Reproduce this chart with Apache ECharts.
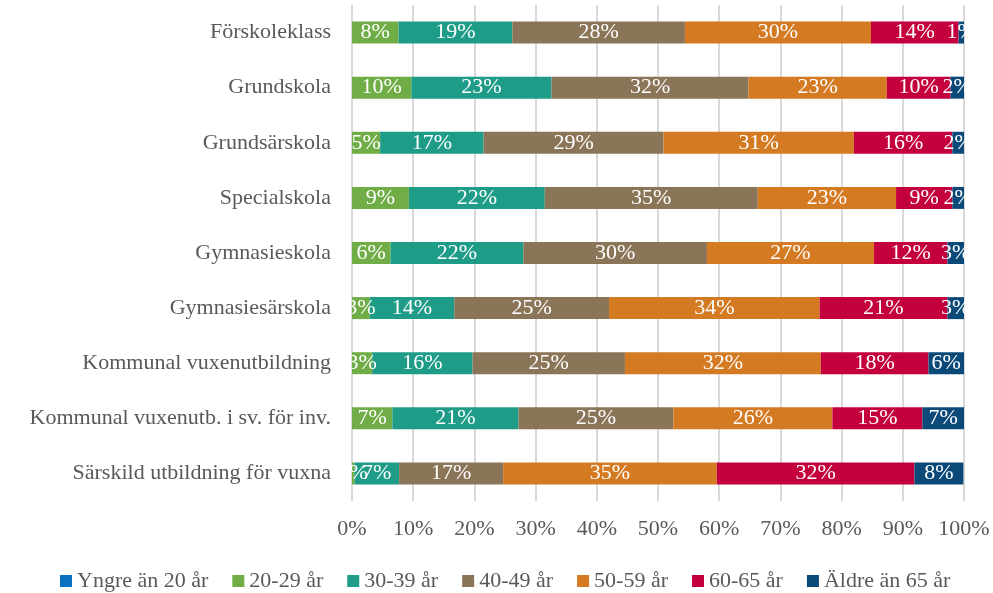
<!DOCTYPE html>
<html>
<head>
<meta charset="utf-8">
<script src="https://cdn.jsdelivr.net/npm/echarts@6/dist/echarts.min.js"></script>
<style>
  html, body { margin: 0; padding: 0; background: #fff; }
  #chart { width: 993px; height: 593px; }
</style>
</head>
<body>
<div id="chart"></div>
<script>
  // skolformer, uppifrån och ned
  var categories = [
    'Förskoleklass',
    'Grundskola',
    'Grundsärskola',
    'Specialskola',
    'Gymnasieskola',
    'Gymnasiesärskola',
    'Kommunal vuxenutbildning',
    'Kommunal vuxenutb. i sv. för inv.',
    'Särskild utbildning för vuxna'
  ]
  var seriesNames = ['Yngre än 20 år', '20-29 år', '30-39 år', '40-49 år', '50-59 år', '60-65 år', 'Äldre än 65 år']

  // andel (%) per åldersgrupp
  var under20 = [0, 0, 0, 0, 0, 0, 0, 0, 0]
  var age20_29 = [7.6, 9.7, 4.6, 9.3, 6.3, 2.9, 3.3, 6.6, 0.4]
  var age30_39 = [18.6, 22.9, 16.9, 22.2, 21.7, 13.8, 16.4, 20.6, 7.3]
  var age40_49 = [28.2, 32.2, 29.4, 34.8, 30.0, 25.3, 24.9, 25.3, 17.0]
  var age50_59 = [30.4, 22.6, 31.1, 22.6, 27.3, 34.4, 32.0, 26.0, 34.9]
  var age60_65 = [14.3, 10.4, 16.1, 9.2, 12.0, 20.9, 17.6, 14.7, 32.3]
  var over65 = [0.9, 2.2, 1.9, 1.9, 2.7, 2.7, 5.8, 6.8, 8.0]

  var colors = ['#0a70c0', '#70ad47', '#1f9c88', '#8b7558', '#d47a22', '#c3003d', '#0b4a78']
  var allData = [under20, age20_29, age30_39, age40_49, age50_59, age60_65, over65]
  var fontFamily = '"Liberation Serif", "DejaVu Serif", serif'

  var myChart = echarts.init(document.getElementById('chart'))

  var series = allData.map(function (d, i) {
    return {
      name: seriesNames[i],
      type: 'bar',
      stack: 'total',
      barWidth: 22,
      data: d,
      itemStyle: { color: colors[i] },
      label: {
        show: true,
        position: 'inside',
        color: '#fff',
        fontFamily: fontFamily,
        fontSize: 22,
        formatter: function (p) {
          if (!p.value) {
            return ''
          }
          return Math.round(p.value) + '%'
        }
      }
    }
  })

  myChart.setOption({
    animation: false,
    textStyle: { fontFamily: fontFamily },
    grid: { left: 352, right: 29, top: 5, bottom: 92 },
    legend: {
      top: 565,
      left: 55,
      icon: 'rect',
      itemWidth: 12,
      itemHeight: 12,
      itemGap: 24,
      textStyle: { color: '#595959', fontSize: 22, fontFamily: fontFamily },
      data: seriesNames
    },
    xAxis: {
      type: 'value',
      min: 0,
      max: 100,
      interval: 10,
      axisLine: { show: false },
      axisTick: { show: false },
      axisLabel: {
        color: '#595959',
        fontSize: 22,
        margin: 17,
        formatter: '{value}%'
      },
      splitLine: { lineStyle: { color: '#d9d9d9', width: 2 } }
    },
    yAxis: {
      type: 'category',
      inverse: true,
      data: categories,
      axisLine: { show: false },
      axisTick: { show: false },
      axisLabel: { color: '#595959', fontSize: 22, margin: 21 }
    },
    series: series
  })
</script>
</body>
</html>
